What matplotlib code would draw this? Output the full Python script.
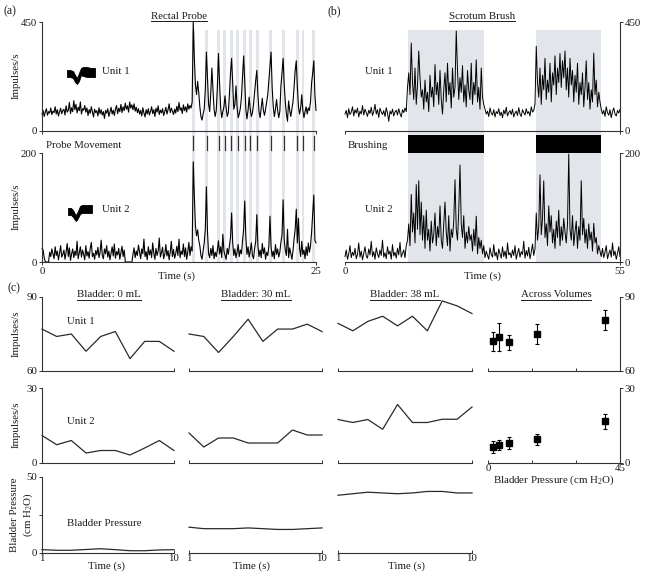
import matplotlib
matplotlib.use('Agg')
import matplotlib.pyplot as plt
import numpy as np
from matplotlib.lines import Line2D

plt.rcParams['font.family'] = ['Liberation Serif', 'DejaVu Serif']
plt.rcParams['mathtext.fontset'] = 'custom'
plt.rcParams['mathtext.rm'] = 'Liberation Serif'
plt.rcParams['mathtext.it'] = 'Liberation Serif:italic'

# ---------------- DATA ----------------
# (a) Rectal probe, sampled every 0.1 s (0 .. 25 s)
dt_a = 0.1
a_unit1 = [
    70, 85, 60, 78, 92, 65, 80, 74, 95, 68,
    82, 76, 100, 70, 88, 62, 79, 94, 71, 85,
    90, 66, 104, 78, 85, 118, 72, 96, 80, 125,
    88, 110, 75, 98, 84, 120, 70, 92, 86, 105,
    78, 95, 64, 88, 73, 100, 80, 58, 90, 76,
    84, 62, 96, 71, 88, 66, 80, 52, 85, 74,
    92, 60, 78, 98, 70, 86, 64, 90, 105, 72,
    94, 80, 110, 76, 100, 84, 115, 90, 104, 78,
    120, 95, 108, 88, 112, 82, 98, 76, 92, 70,
    85, 62, 96, 74, 58, 88, 70, 92, 66, 80,
    100, 72, 88, 60, 94, 78, 104, 68, 86, 75,
    92, 64, 80, 98, 70, 88, 112, 76, 94, 82,
    68, 90, 74, 102, 80, 118, 86, 96, 72, 108,
    84, 100, 78, 112, 90, 105, 95, 120,
    450, 300, 190, 150, 205, 160, 100, 60, 45, 70,
    90, 170, 326, 220, 110, 80, 160, 260, 170, 90,
    60, 85, 180, 320, 200, 95, 55, 80, 100, 145,
    95, 60, 75, 150, 240, 300, 190, 90, 110, 186,
    100, 55, 70, 95, 140, 230, 310, 200, 90, 50,
    85, 140, 90, 60, 75, 110, 160, 210, 250, 150,
    80, 55, 95, 135, 85, 65, 90, 120, 150, 210,
    270, 326, 180, 100, 60, 90, 130, 85, 55, 80,
    186, 240, 300, 190, 120, 70, 40, 124, 85, 60,
    90, 120, 180, 250, 290, 180, 100, 70, 95, 150,
    85, 55, 80, 100, 70, 95, 85, 120, 200, 240,
    290, 150, 85,
]
a_unit2 = [
    25, 22, 8, 0, 0, 0, 0, 18, 10, 24,
    15, 6, 28, 12, 20, 4, 16, 30, 9, 14,
    22, 5, 18, 34, 10, 26, 3, 15, 24, 8,
    20, 12, 38, 6, 17, 28, 9, 22, 14, 4,
    30, 11, 19, 7, 25, 36, 10, 16, 5, 21,
    13, 27, 8, 18, 40, 12, 6, 24, 15, 30,
    9, 20, 4, 16, 28, 11, 33, 7, 19, 13,
    25, 5, 17, 29, 10, 22, 0, 0, 0, 0,
    0, 0, 0, 14, 26, 8, 20, 12, 31, 18,
    6, 24, 15, 42, 10, 19, 4, 28, 13, 22,
    8, 35, 16, 5, 25, 12, 20, 44, 9, 17,
    27, 6, 14, 32, 11, 21, 4, 18, 38, 10,
    23, 7, 15, 29, 12, 42, 8, 20, 14, 33,
    10, 26, 5, 18, 36, 12, 28, 20,
    184, 120, 66, 48, 59, 40, 30, 12, 5, 20,
    35, 60, 138, 55, 15, 8, 25, 12, 30, 6,
    18, 10, 22, 39, 15, 28, 8, 51, 20, 12,
    5, 25, 14, 30, 45, 90, 35, 12, 24, 8,
    18, 32, 10, 22, 15, 40, 60, 112, 45, 14,
    28, 9, 20, 35, 12, 6, 25, 38, 87, 30,
    10, 22, 8, 34, 15, 26, 5, 18, 12, 30,
    84, 28, 10, 20, 6, 32, 14, 24, 9, 18,
    36, 50, 114, 40, 22, 12, 60, 8, 26, 15,
    5, 20, 42, 60, 97, 35, 80, 25, 10, 38,
    14, 22, 6, 28, 12, 35, 18, 30, 55, 90,
    123, 40, 35,
]
probe_times = [13.8, 15.03, 16.12, 16.67, 17.26, 17.87, 18.5, 19.02, 19.66,
               20.87, 22.05, 23.28, 23.81, 24.79]
probe_width = 0.25

# (b) Scrotum brush, sampled every 0.25 s (0 .. 55 s)
dt_b = 0.25
b_unit1 = [
    70, 85, 55, 92, 68, 78, 100, 62, 88, 74,
    95, 58, 82, 70, 105, 66, 90, 76, 60, 86,
    72, 98, 64, 80, 110, 70, 88, 56, 94, 78,
    68, 84, 60, 96, 74, 40, 82, 70, 90, 62,
    78, 86, 66, 92, 72, 58, 88, 76, 95, 80,
    180, 240, 150, 363, 200, 130, 260, 110, 190, 330,
    220, 140, 170, 90, 210, 120, 160, 80, 230, 140,
    180, 100, 274, 150, 200, 110, 250, 130, 70, 170,
    240, 120, 280, 150, 200, 95, 260, 140, 180, 413,
    250, 130, 220, 160, 270, 120, 190, 100, 250, 170,
    130, 280, 110, 200, 150, 294, 120, 180, 90, 260,
    140, 110,
    90, 70, 82, 60, 95, 74, 66, 88, 58, 80,
    72, 92, 64, 78, 55, 86, 70, 98, 62, 76,
    84, 68, 90, 58, 74, 82, 64, 96, 70, 60,
    88, 76, 66, 92, 72, 80, 62, 100, 78, 85,
    110,
    350, 200, 140, 260, 110, 230, 170, 300, 130, 210,
    160, 280, 120, 240, 190, 310, 150, 260, 200, 320,
    180, 290, 220, 330, 170, 260, 140, 300, 190, 250,
    120, 230, 160, 280, 110, 200, 150, 240, 100, 180,
    290, 130, 200, 90, 170, 120, 322, 150, 210, 100,
    160, 120,
    90, 70, 85, 60, 100, 75, 65, 88, 55, 80, 95, 70, 62, 85, 74, 90,
]
b_unit2 = [
    10, 22, 5, 15, 30, 8, 18, 12, 25, 6,
    14, 35, 9, 20, 4, 16, 28, 11, 7, 24,
    13, 38, 10, 19, 5, 26, 15, 8, 22, 12,
    40, 9, 17, 6, 28, 14, 20, 5, 32, 11,
    18, 7, 25, 13, 36, 9, 16, 22, 8, 30,
    40, 70, 30, 124, 55, 90, 35, 142, 60, 149,
    50, 110, 40, 85, 25, 95, 40, 60, 20, 75,
    35, 50, 90, 30, 65, 45, 103, 40, 25, 70,
    110, 55, 30, 85, 20, 60, 45, 75, 151, 60,
    40, 95, 178, 70, 45, 85, 25, 55, 35, 65,
    40, 50, 20, 60, 30, 84, 15, 45, 25, 40,
    15, 30,
    8, 20, 12, 5, 26, 14, 9, 32, 11, 18,
    4, 24, 15, 7, 28, 10, 20, 6, 35, 13,
    17, 8, 22, 12, 30, 5, 16, 25, 9, 19,
    14, 38, 7, 21, 11, 27, 6, 18, 33, 12,
    24,
    90, 40, 65, 160, 50, 80, 149, 45, 70, 30,
    103, 55, 85, 35, 60, 25, 75, 45, 95, 30,
    65, 40, 80, 55, 35, 70, 198, 60, 40, 85,
    30, 55, 75, 25, 65, 40, 149, 50, 80, 35,
    60, 25, 70, 40, 55, 20, 71, 35, 45, 15,
    30, 20,
    10, 25, 8, 18, 30, 6, 15, 22, 9, 35, 12, 20, 5, 16, 28, 10,
]
brush_periods = [(12.6, 27.8), (38.1, 51.1)]

# (c) Bladder volumes: 10 one-second bins
time_c = [1, 2, 3, 4, 5, 6, 7, 8, 9, 10]
volumes = ['Bladder: 0 mL', 'Bladder: 30 mL', 'Bladder: 38 mL']
c_unit1 = [
    [77, 74, 75, 68, 74, 76, 65, 72, 72, 68],
    [75, 74, 67.5, 74, 81, 72, 77, 77, 79, 76],
    [79.3, 76.3, 80.1, 82.2, 78.3, 82.2, 76.3, 88.4, 86.4, 83.3],
]
c_unit2 = [
    [11, 7.3, 9, 4, 5, 5, 3.2, 6, 9, 5],
    [12, 6.4, 10, 10, 8, 8, 8, 13.2, 11.2, 11.2],
    [17.4, 16.2, 17.4, 13.5, 23.4, 16.2, 16.2, 17.5, 17.5, 22.4],
]
c_press = [
    [2.2, 1.8, 1.8, 2.3, 2.8, 2.2, 1.5, 1.5, 2.0, 2.2],
    [17, 16, 16, 16, 16.5, 16, 15.5, 15.5, 16, 16.5],
    [38, 39, 40, 39.5, 39, 39.5, 40.5, 40.5, 39.5, 39.5],
]
across_press = [1.8, 3.7, 7.2, 16.8, 40.0]
across_u1 = [72.0, 73.7, 71.7, 75.0, 80.7]
across_u1_err = [4.0, 5.7, 3.0, 3.9, 4.0]
across_u2 = [6.4, 7.3, 8.0, 9.5, 16.8]
across_u2_err = [2.3, 2.0, 2.3, 2.2, 3.0]

# waveform icons (envelope, pixel-relative)
icon1_x = [0, 3, 6, 8, 10, 12, 14, 16, 20, 24, 28]
icon1_top = [70, 70, 71, 75, 78, 73, 68, 67, 67, 68, 68]
icon1_bot = [77, 77, 78, 82, 84, 81, 75, 76, 77, 77, 77]
icon2_x = [0, 3, 5, 7, 8, 10, 12, 14, 18, 24]
icon2_top = [208, 208, 210, 214, 215, 211, 206, 205, 205, 205]
icon2_bot = [215, 215, 217, 220, 221, 218, 214, 213, 213, 213]

# ---------------- STYLE ----------------
W, H = 645, 578
FS = 7.8
TXT = '#1a1a1a'
SPC = '#333333'
SHADE = '#e2e6eb'
fig = plt.figure(figsize=(W / 100, H / 100), dpi=100)
renderer = fig.canvas.get_renderer()


def add_ax(x0, x1, ytop, ybot, z=2):
    ax = fig.add_axes([x0 / W, 1 - ybot / H, (x1 - x0) / W, (ybot - ytop) / H])
    ax.set_zorder(z)
    ax.set_facecolor('none')
    return ax


def style(ax, left=True, right=False, bottom=True):
    ax.spines['top'].set_visible(False)
    ax.spines['left'].set_visible(left)
    ax.spines['right'].set_visible(right)
    ax.spines['bottom'].set_visible(bottom)
    for sp in ax.spines.values():
        sp.set_linewidth(0.8)
        sp.set_color(SPC)
    ax.tick_params(direction='out', length=2.5, width=0.7, colors=SPC,
                   labelsize=FS, labelcolor=TXT, pad=1)
    if right:
        ax.yaxis.tick_right()
    if not left and not right:
        ax.set_yticks([])


def ftext(x, y, s, **kw):
    kw.setdefault('fontsize', FS)
    kw.setdefault('color', TXT)
    return fig.text(x / W, 1 - y / H, s, **kw)


def utext(xc, yb, s):
    t = ftext(xc, yb, s, ha='center', va='baseline')
    bb = t.get_window_extent(renderer=renderer)
    yl = 1 - (yb + 2) / H
    fig.add_artist(Line2D([bb.x0 / W, bb.x1 / W], [yl, yl],
                          transform=fig.transFigure, lw=0.7, color=TXT))


def icon(x0, xs, top, bot, yl, yh):
    ia = add_ax(x0, x0 + max(xs), yl, yh, z=3)
    ia.axis('off')
    ia.set_xlim(0, max(xs))
    ia.set_ylim(yh, yl)
    ia.fill_between(xs, top, bot, color='black', lw=0.6)


# ---------------- PANEL (a) ----------------
ta1 = np.arange(len(a_unit1)) * dt_a
ta2 = np.arange(len(a_unit2)) * dt_a

ov = add_ax(42, 316, 22, 262, z=0)
ov.axis('off')
ov.set_xlim(0, 25)
ov.set_ylim(0, 240)
for pt in probe_times:
    ov.axvspan(pt - probe_width / 2, pt + probe_width / 2, ymin=0, ymax=232 / 240,
               color=SHADE, lw=0)
    ov.axvline(pt, ymin=112 / 240, ymax=126 / 240, color='#333', lw=0.9)

a1 = add_ax(42, 316, 22, 131)
style(a1)
a1.plot(ta1, a_unit1, color='black', lw=0.8, clip_on=False)
a1.set_xlim(0, 25)
a1.set_ylim(0, 450)
a1.set_yticks([0, 450])
a1.set_xticks([0, 25])
a1.set_xticklabels([])

a2 = add_ax(42, 316, 153, 262)
style(a2)
a2.plot(ta2, a_unit2, color='black', lw=0.8, clip_on=False)
a2.set_xlim(0, 25)
a2.set_ylim(0, 200)
a2.set_yticks([0, 200])
a2.set_xticks([0, 25])

ftext(4, 11, '(a)', fontsize=8.5, va='center')
utext(179, 19, 'Rectal Probe')
ftext(16, 76, 'Impulses/s', rotation=90, ha='center', va='center')
ftext(16, 207, 'Impulses/s', rotation=90, ha='center', va='center')
ftext(102, 72, 'Unit 1', va='center')
ftext(102, 210, 'Unit 2', va='center')
ftext(46, 146, 'Probe Movement', va='center')
ftext(176, 276, 'Time (s)', ha='center', va='center')
icon(67, icon1_x, icon1_top, icon1_bot, 64, 86)
icon(68, icon2_x, icon2_top, icon2_bot, 203, 223)

# ---------------- PANEL (b) ----------------
tb1 = np.arange(len(b_unit1)) * dt_b
tb2 = np.arange(len(b_unit2)) * dt_b

ovb = add_ax(345, 620, 22, 262, z=0)
ovb.axis('off')
ovb.set_xlim(0, 55)
ovb.set_ylim(0, 240)
for s0, s1 in brush_periods:
    ovb.axvspan(s0, s1, ymin=0, ymax=232 / 240, color=SHADE, lw=0)
    ovb.axvspan(s0, s1, ymin=(262 - 152.5) / 240, ymax=(262 - 135) / 240,
                color='black', lw=0)

b1 = add_ax(345, 620, 22, 131)
style(b1, left=False, right=True)
b1.plot(tb1, b_unit1, color='black', lw=0.7, clip_on=False)
b1.set_xlim(0, 55)
b1.set_ylim(0, 450)
b1.set_yticks([0, 450])
b1.set_xticks([0, 55])
b1.set_xticklabels([])

b2 = add_ax(345, 620, 153, 262)
style(b2, left=False, right=True)
b2.plot(tb2, b_unit2, color='black', lw=0.7, clip_on=False)
b2.set_xlim(0, 55)
b2.set_ylim(0, 200)
b2.set_yticks([0, 200])
b2.set_xticks([0, 55])

ftext(327, 11, '(b)', fontsize=8.5, va='center')
utext(482, 19, 'Scrotum Brush')
ftext(365, 72, 'Unit 1', va='center')
ftext(348, 146, 'Brushing', va='center')
ftext(365, 210, 'Unit 2', va='center')
ftext(482, 276, 'Time (s)', ha='center', va='center')

# ---------------- PANEL (c) ----------------
col_x = [(42, 174), (189, 322), (338, 472)]
rows = [(297, 371), (388, 463), (477, 553)]
row_lims = [(60, 90), (0, 30), (0, 50)]
row_data = [c_unit1, c_unit2, c_press]
title_x = [109, 256, 405]

for ci, (x0, x1) in enumerate(col_x):
    for ri, (yt, yb) in enumerate(rows):
        ax = add_ax(x0, x1, yt, yb)
        style(ax, left=(ci == 0))
        ax.plot(time_c, row_data[ri][ci], color='#2a2a2a', lw=0.9, clip_on=False)
        ax.set_xlim(1, 10)
        ax.set_ylim(*row_lims[ri])
        ax.set_xticks([1, 10])
        ax.tick_params(axis='x', direction='in', length=2.5)
        if ri < 2:
            ax.set_xticklabels([])
        if ci == 0:
            if ri == 2:
                ax.set_yticks([0, 25, 50])
                ax.set_yticklabels(['0', '', '50'])
            else:
                ax.set_yticks(list(row_lims[ri]))
    utext(title_x[ci], 297.5, volumes[ci])

for ci, xc in enumerate([106, 251, 406]):
    ftext(xc, 566, 'Time (s)', ha='center', va='center')

# Across volumes
acr = [(across_u1, across_u1_err, (60, 90), rows[0]),
       (across_u2, across_u2_err, (0, 30), rows[1])]
for k, (m, e, lim, (yt, yb)) in enumerate(acr):
    ax = add_ax(488, 620, yt, yb)
    style(ax, left=False, right=True)
    ax.errorbar(across_press, m, yerr=e, fmt='s', color='black', ms=4.5,
                elinewidth=0.8, capsize=1.5, capthick=0.8, clip_on=False)
    ax.set_xlim(0, 45)
    ax.set_ylim(*lim)
    ax.set_yticks(list(lim))
    ax.set_xticks([0, 15, 30, 45])
    ax.tick_params(axis='x', direction='in', length=2.5)
    if k == 0:
        ax.set_xticklabels([])
    else:
        ax.set_xticklabels(['0', '', '', '45'])
utext(556, 297.5, 'Across Volumes')
ftext(554, 480, 'Bladder Pressure (cm H$_2$O)', ha='center', va='center')

ftext(8, 288, '(c)', fontsize=8.5, va='center')
ftext(67, 322, 'Unit 1', va='center')
ftext(67, 422, 'Unit 2', va='center')
ftext(67, 524, 'Bladder Pressure', va='center')
ftext(16, 334, 'Impulses/s', rotation=90, ha='center', va='center')
ftext(16, 425, 'Impulses/s', rotation=90, ha='center', va='center')
ftext(15, 515, 'Bladder Pressure', rotation=90, ha='center', va='center')
ftext(28, 515, '(cm H$_2$O)', rotation=90, ha='center', va='center')

fig.savefig('out.png', dpi=100)
